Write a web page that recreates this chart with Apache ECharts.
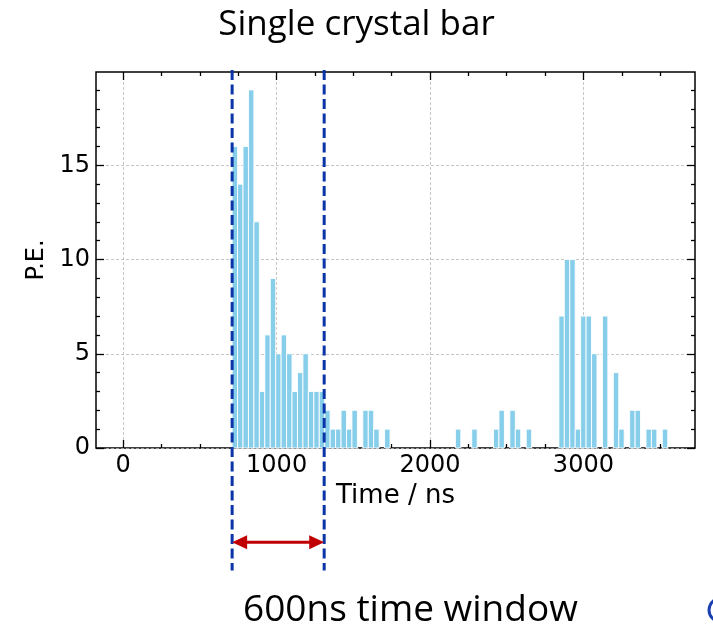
<!DOCTYPE html>
<html>
<head>
<meta charset="utf-8">
<script src="https://cdn.jsdelivr.net/npm/echarts@6/dist/echarts.min.js"></script>
<style>
	html, body { margin: 0; padding: 0; background: #fff; }
	#main { width: 713px; height: 628px; }
</style>
</head>
<body>
<div id="main"></div>
<script>
// histogram: 100 bins starting at 0 ns
const binStart = 0;
const binWidth = 35.5;
const peCounts = [
	0, 0, 0, 0, 0, 0, 0, 0, 0, 0,
	0, 0, 0, 0, 0, 0, 0, 0, 0, 0,
	16, 14, 16, 19, 12, 3, 6, 9, 5, 6,
	5, 3, 4, 5, 3, 3, 3, 2, 1, 1,
	2, 1, 2, 0, 2, 2, 1, 0, 1, 0,
	0, 0, 0, 0, 0, 0, 0, 0, 0, 0,
	0, 1, 0, 0, 1, 0, 0, 0, 1, 2,
	0, 2, 1, 0, 1, 0, 0, 0, 0, 0,
	7, 10, 10, 1, 7, 7, 5, 0, 7, 0,
	4, 1, 0, 2, 2, 0, 1, 1, 0, 1
];

// axis ticks
const xMajorTicks = [0, 1000, 2000, 3000];
const xMinorTicks = [250, 500, 750, 1250, 1500, 1750, 2250, 2500, 2750, 3250, 3500];
const yMajorTicks = [0, 5, 10, 15];
const yMinorTicks = [1, 2, 3, 4, 6, 7, 8, 9, 11, 12, 13, 14, 16, 17, 18, 19];

// 600 ns time window
const windowEdges = [710, 1310];

const xMin = -177.5, xMax = 3727.5;
const yMin = 0, yMax = 19.95;

let histData = peCounts.map(function (v, i) {
	return [binStart + i * binWidth, binStart + (i + 1) * binWidth, v];
});

let myChart = echarts.init(document.getElementById('main'));

const tickFont = { fontFamily: 'DejaVu Sans', fontSize: 24, color: '#000' };

function plainLabel(v) {
	return String(v);
}

function xAxisOf(pos, ticks, len, withLabels) {
	return {
		type: 'value',
		position: pos,
		min: xMin,
		max: xMax,
		axisLine: { show: false, onZero: false },
		axisTick: { show: true, inside: true, length: len, customValues: ticks, lineStyle: { color: '#000', width: 1.3 } },
		axisLabel: withLabels ? Object.assign({ customValues: ticks, margin: 6, formatter: plainLabel }, tickFont) : { show: false },
		splitLine: { show: false }
	};
}

function yAxisOf(pos, ticks, len, withLabels) {
	return {
		type: 'value',
		position: pos,
		min: yMin,
		max: yMax,
		axisLine: { show: false, onZero: false },
		axisTick: { show: true, inside: true, length: len, customValues: ticks, lineStyle: { color: '#000', width: 1.3 } },
		axisLabel: withLabels ? Object.assign({ customValues: ticks, margin: 6, formatter: plainLabel }, tickFont) : { show: false },
		splitLine: { show: false }
	};
}

let xMain = xAxisOf('bottom', xMajorTicks, 8, true);
xMain.name = 'Time / ns';
xMain.nameLocation = 'middle';
xMain.nameGap = 35;
xMain.nameTextStyle = { fontFamily: 'DejaVu Sans', fontSize: 26, color: '#000' };
xMain.splitLine = { show: true, lineStyle: { color: '#b8b8b8', width: 0.8, type: [3, 2] } };

let yMain = yAxisOf('left', yMajorTicks, 8, true);
yMain.name = 'P.E.';
yMain.nameLocation = 'middle';
yMain.nameGap = 38;
yMain.nameTextStyle = { fontFamily: 'DejaVu Sans', fontSize: 24, color: '#000' };
yMain.splitLine = { show: true, lineStyle: { color: '#b8b8b8', width: 0.8, type: [3, 2] } };

let option = {
	backgroundColor: '#fff',
	animation: false,
	title: {
		text: 'Single crystal bar',
		left: 'center',
		top: 3,
		textStyle: { fontFamily: 'Open Sans', fontSize: 35, fontWeight: 'normal', color: '#000' }
	},
	grid: {
		left: 96,
		right: 18,
		top: 72,
		bottom: 180,
		show: true,
		borderColor: '#000',
		borderWidth: 1.5,
		backgroundColor: 'transparent'
	},
	xAxis: [
		xMain,
		xAxisOf('bottom', xMinorTicks, 4, false),
		xAxisOf('top', xMajorTicks, 8, false),
		xAxisOf('top', xMinorTicks, 4, false)
	],
	yAxis: [
		yMain,
		yAxisOf('left', yMinorTicks, 4, false),
		yAxisOf('right', yMajorTicks, 8, false),
		yAxisOf('right', yMinorTicks, 4, false)
	],
	graphic: [{
		type: 'text',
		style: {
			text: '600ns time window',
			x: 243,
			y: 610,
			textVerticalAlign: 'middle',
			font: '37px "Open Sans"',
			fill: '#000'
		}
	}, {
		type: 'ellipse',
		shape: { cx: 724, cy: 610, rx: 15, ry: 13 },
		style: { fill: 'none', stroke: '#1a3fb0', lineWidth: 3 }
	}],
	series: [{
		name: 'hist',
		type: 'custom',
		xAxisIndex: 0,
		yAxisIndex: 0,
		encode: { x: [0, 1], y: 2 },
		data: histData,
		renderItem: function (params, api) {
			let v = api.value(2);
			if (!v) return;
			let p0 = api.coord([api.value(0), v]);
			let p1 = api.coord([api.value(1), 0]);
			return {
				type: 'rect',
				shape: { x: p0[0], y: p0[1], width: p1[0] - p0[0], height: p1[1] - p0[1] },
				style: { fill: '#87ceeb', stroke: '#fff', lineWidth: 0.9 }
			};
		}
	}, {
		name: 'window',
		type: 'custom',
		clip: false,
		z: 5,
		xAxisIndex: 0,
		yAxisIndex: 0,
		data: windowEdges.map(function (t) { return [t, 0]; }),
		renderItem: function (params, api) {
			let top = api.coord([api.value(0), 20.05]);
			let bot = api.coord([api.value(0), -6.5]);
			return {
				type: 'line',
				shape: { x1: top[0], y1: top[1], x2: bot[0], y2: bot[1] },
				style: { stroke: '#0a34a8', lineWidth: 3, lineDash: [10, 4.5] }
			};
		}
	}, {
		name: 'arrow',
		type: 'custom',
		clip: false,
		z: 6,
		xAxisIndex: 0,
		yAxisIndex: 0,
		data: [[windowEdges[0], windowEdges[1], -5]],
		renderItem: function (params, api) {
			let a = api.coord([api.value(0), api.value(2)]);
			let b = api.coord([api.value(1), api.value(2)]);
			let head = 15, half = 7;
			return {
				type: 'group',
				children: [{
					type: 'line',
					shape: { x1: a[0] + head - 2, y1: a[1], x2: b[0] - head + 2, y2: b[1] },
					style: { stroke: '#c00000', lineWidth: 3 }
				}, {
					type: 'polygon',
					shape: { points: [[a[0], a[1]], [a[0] + head, a[1] - half], [a[0] + head, a[1] + half]] },
					style: { fill: '#c00000' }
				}, {
					type: 'polygon',
					shape: { points: [[b[0], b[1]], [b[0] - head, b[1] - half], [b[0] - head, b[1] + half]] },
					style: { fill: '#c00000' }
				}]
			};
		}
	}]
};

myChart.setOption(option);
</script>
</body>
</html>
